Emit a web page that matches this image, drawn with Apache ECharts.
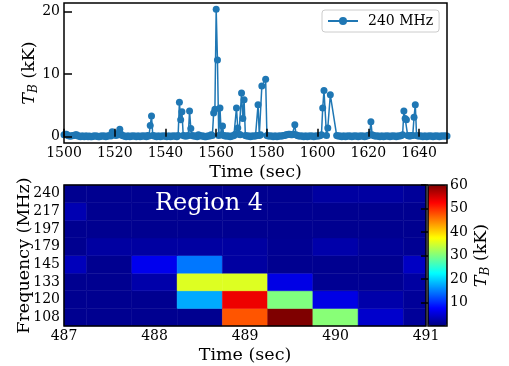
<!DOCTYPE html>
<html>
<head>
<meta charset="utf-8">
<script src="https://cdn.jsdelivr.net/npm/echarts@6/dist/echarts.min.js"></script>
<style>
html,body{margin:0;padding:0;background:#fff;}
#chart{width:509px;height:366px;}
</style>
</head>
<body>
<div id="chart"></div>
<script>
// ---- Top panel: 240 MHz brightness temperature (kK) vs time (sec) ----
const seriesName = '240 MHz';
const tb240Samples = [
[1500,0.3],[1500.5,0.4],[1501,0.4],[1501.5,0.2],[1502,0.1],[1502.5,0.1],[1503,0.1],[1503.5,0.2],[1504,0.2],[1504.5,0.3],
[1505,0.3],[1505.5,0.1],[1506,0.1],[1506.5,0.0],[1507,0.1],[1507.5,0.1],[1508,0.0],[1508.5,0.1],[1509,0.1],[1509.5,0.0],
[1510,0.1],[1510.5,0.0],[1511,0.0],[1511.5,0.1],[1512,0.1],[1512.5,0.1],[1513,0.1],[1513.5,0.0],[1514,0.0],[1514.5,0.1],
[1515,0.1],[1515.5,0.1],[1516,0.1],[1516.5,0.0],[1517,0.1],[1517.5,0.1],[1518,0.2],[1518.5,0.1],[1519,0.8],[1519.5,0.4],
[1520,0.3],[1520.5,0.2],[1521,0.5],[1521.5,0.3],[1522,1.2],[1522.5,0.4],[1523,0.2],[1523.5,0.1],[1524,0.1],[1524.5,0.0],
[1525,0.1],[1525.5,0.1],[1526,0.0],[1526.5,0.1],[1527,0.1],[1527.5,0.1],[1528,0.1],[1528.5,0.0],[1529,0.1],[1529.5,0.1],
[1530,0.0],[1530.5,0.1],[1531,0.1],[1531.5,0.1],[1532,0.1],[1532.5,0.0],[1533,0.2],[1533.5,0.1],[1534,1.8],[1534.5,3.3],
[1535,0.2],[1535.5,0.1],[1536,0.1],[1536.5,0.0],[1537,0.1],[1537.5,0.1],[1538,0.0],[1538.5,0.1],[1539,0.1],[1539.5,0.1],
[1540,0.1],[1540.5,0.0],[1541,0.1],[1541.5,0.1],[1542,0.0],[1542.5,0.1],[1543,0.1],[1543.5,0.1],[1544,0.1],[1544.5,0.0],
[1545,0.2],[1545.5,5.5],[1546,2.7],[1546.5,4.0],[1547,0.2],[1547.5,0.1],[1548,0.1],[1548.5,0.1],[1549,0.2],[1549.5,4.1],
[1550,1.3],[1550.5,0.2],[1551,0.1],[1551.5,0.1],[1552,0.1],[1552.5,0.0],[1553,0.3],[1553.5,0.2],[1554,0.1],[1554.5,0.1],
[1555,0.1],[1555.5,0.0],[1556,0.0],[1556.5,0.1],[1557,0.1],[1557.5,0.1],[1558,0.3],[1558.5,0.2],[1559,3.8],[1559.5,4.4],
[1560,20.4],[1560.5,12.3],[1561,0.2],[1561.5,4.6],[1562,0.3],[1562.5,1.7],[1563,0.2],[1563.5,0.1],[1564,0.1],[1564.5,0.1],
[1565,0.1],[1565.5,0.0],[1566,0.1],[1566.5,0.1],[1567,0.2],[1567.5,0.4],[1568,4.6],[1568.5,1.4],[1569,0.4],[1569.5,0.3],
[1570,7.0],[1570.5,2.9],[1571,5.9],[1571.5,0.2],[1572,0.1],[1572.5,0.1],[1573,0.1],[1573.5,0.0],[1574,0.1],[1574.5,0.1],
[1575,0.1],[1575.5,0.1],[1576,0.2],[1576.5,5.1],[1577,0.2],[1577.5,0.3],[1578,8.1],[1579.5,9.2],
[1580,0.2],[1580.5,0.1],[1581,0.1],[1581.5,0.1],[1582,0.1],[1582.5,0.0],[1583,0.1],[1583.5,0.1],[1584,0.0],[1584.5,0.1],
[1585,0.1],[1585.5,0.1],[1586,0.1],[1586.5,0.2],[1587,0.2],[1587.5,0.3],[1588,0.3],[1588.5,0.4],[1589,0.4],[1589.5,0.3],
[1590,0.3],[1590.5,0.4],[1591,1.9],[1591.5,0.3],[1592,0.2],[1592.5,0.1],[1593,0.1],[1593.5,0.1],[1594,0.1],[1594.5,0.0],
[1595,0.1],[1595.5,0.1],[1596,0.0],[1596.5,0.1],[1597,0.1],[1597.5,0.1],[1598,0.1],[1598.5,0.0],[1599,0.1],[1599.5,0.1],
[1600,0.1],[1600.5,0.1],[1601,0.2],[1601.5,0.3],[1602,4.6],[1602.5,7.4],[1603.5,0.2],[1604,1.4],[1605,6.7],
[1607.5,0.2],[1608,0.1],[1608.5,0.1],[1609,0.1],[1609.5,0.0],
[1610,0.1],[1610.5,0.1],[1611,0.0],[1611.5,0.1],[1612,0.1],[1612.5,0.1],[1613,0.1],[1613.5,0.0],[1614,0.1],[1614.5,0.1],
[1615,0.1],[1615.5,0.1],[1616,0.0],[1616.5,0.1],[1617,0.1],[1617.5,0.1],[1618,0.1],[1618.5,0.0],[1619,0.1],[1619.5,0.1],
[1620,0.2],[1620.5,0.3],[1621,2.4],[1621.5,0.3],[1622,0.2],[1622.5,0.1],[1623,0.1],[1623.5,0.1],[1624,0.1],[1624.5,0.0],
[1625,0.1],[1625.5,0.1],[1626,0.0],[1626.5,0.1],[1627,0.1],[1627.5,0.1],[1628,0.1],[1628.5,0.0],[1629,0.1],[1629.5,0.1],
[1630,0.1],[1630.5,0.1],[1631,0.0],[1631.5,0.1],[1632,0.1],[1632.5,0.1],[1633,0.2],[1633.5,0.3],[1634,4.1],[1634.5,2.9],
[1635,2.7],[1635.5,0.2],[1636,0.1],[1636.5,0.1],[1637,0.2],[1637.5,0.2],[1638,3.1],[1638.5,5.1],[1639,0.2],[1639.5,0.1],
[1640,0.1],[1640.5,0.1],[1641,0.1],[1641.5,0.0],[1642,0.1],[1642.5,0.1],[1643,0.0],[1643.5,0.1],[1644,0.1],[1644.5,0.1],
[1645,0.1],[1645.5,0.0],[1646,0.1],[1646.5,0.1],[1647,0.1],[1647.5,0.1],[1648,0.0],[1648.5,0.1],[1649,0.1],[1649.5,0.1],
[1650,0.1],[1650.5,0.1],[1651,0.1]
];
const topXTicks = [1500,1520,1540,1560,1580,1600,1620,1640];
const topYTicks = [0,10,20];

// ---- Bottom panel: Region 4 dynamic spectrum ----
const heatTimes = [487,487.5,488,488.5,489,489.5,490,490.5,491];
const freqLabels = ['108','120','133','145','179','197','217','240'];
const tb108MHz = [1.0,1.0,1.0,1.0,47.5,60.0,30.5,4.5,1.5];
const tb120MHz = [1.0,1.0,1.0,17.5,53.5,30.0,6.0,2.5,1.5];
const tb133MHz = [1.0,1.0,2.5,35.5,35.5,6.0,1.2,1.2,2.0];
const tb145MHz = [3.5,1.0,6.5,14.5,2.0,1.0,1.0,1.0,4.0];
const tb179MHz = [1.0,2.0,2.0,2.0,2.0,1.2,2.5,1.5,1.2];
const tb197MHz = [1.0,1.0,1.0,1.0,1.0,1.0,1.0,1.0,1.0];
const tb217MHz = [3.0,1.0,1.0,1.0,1.0,1.0,1.0,1.0,1.0];
const tb240MHz = [1.0,1.0,1.0,1.0,1.0,1.0,2.0,2.0,1.5];
const heatXTicks = [487,488,489,490,491];
const cbarTicks = [10,20,30,40,50,60];
const jet = ['#00007f','#0000ff','#007fff','#00ffff','#7fff7f','#ffff00','#ff7f00','#ff0000','#7f0000'];

const rows = [tb108MHz,tb120MHz,tb133MHz,tb145MHz,tb179MHz,tb197MHz,tb217MHz,tb240MHz];
const heatData = [];
rows.forEach((row, r) => row.forEach((v, c) => heatData.push([heatTimes[c], r, v])));

const FONT = 'DejaVu Serif';
const plain = v => String(v);
const tickStyle = {color:'#000', width:1.5};
const labelStyle = {fontSize:14, color:'#000', fontFamily:FONT};
const nameStyle = {fontSize:17.5, color:'#000', fontFamily:FONT};
const tbRich = {
  fontSize:17.5, color:'#000', fontFamily:FONT,
  rich:{
    it:{fontStyle:'italic', fontSize:17.5, fontFamily:FONT, color:'#000', lineHeight:22, verticalAlign:'middle'},
    sub:{fontStyle:'italic', fontSize:12, fontFamily:FONT, color:'#000', lineHeight:12, verticalAlign:'bottom'},
    n:{fontSize:17.5, fontFamily:FONT, color:'#000', lineHeight:22, verticalAlign:'middle'}
  }
};

const chart = echarts.init(document.getElementById('chart'), null, {renderer:'canvas'});
const option = {
  animation:false,
  backgroundColor:'#fff',
  textStyle:{fontFamily:FONT},
  grid:[
    {left:64, top:3, width:383, height:140, show:true, borderColor:'#000', borderWidth:1.5, z:10, backgroundColor:'transparent'},
    {left:64, top:185, width:362, height:141, show:true, borderColor:'#000', borderWidth:1.5, z:10, backgroundColor:'transparent'},
    {left:428, top:185, width:19, height:141, show:true, borderColor:'#000', borderWidth:1.5, z:10, backgroundColor:'transparent'}
  ],
  xAxis:[
    {type:'value', gridIndex:0, min:1500, max:1651, z:10,
     axisLine:{show:false}, splitLine:{show:false},
     axisTick:{inside:true, length:8, lineStyle:tickStyle, customValues:topXTicks},
     axisLabel:Object.assign({customValues:topXTicks, margin:3, formatter:plain}, labelStyle),
     name:'Time (sec)', nameLocation:'middle', nameGap:20, nameMoveOverlap:false, nameTextStyle:nameStyle},
    {type:'value', gridIndex:1, min:487, max:491, z:10,
     axisLine:{show:false}, splitLine:{show:false},
     axisTick:{inside:true, length:9, lineStyle:tickStyle, customValues:heatXTicks},
     axisLabel:Object.assign({customValues:heatXTicks, margin:3, formatter:plain}, labelStyle),
     name:'Time (sec)', nameLocation:'middle', nameGap:20, nameMoveOverlap:false, nameTextStyle:nameStyle},
    {type:'value', gridIndex:2, min:0, max:1, show:false}
  ],
  yAxis:[
    {type:'value', gridIndex:0, min:-1.02, max:21.42, z:10,
     axisLine:{show:false}, splitLine:{show:false},
     axisTick:{inside:true, length:8, lineStyle:tickStyle, customValues:topYTicks},
     axisLabel:Object.assign({customValues:topYTicks, margin:4, formatter:plain}, labelStyle),
     name:'{it|T}{sub|B}{n| (kK)}', nameLocation:'middle', nameGap:24, nameMoveOverlap:false, nameTextStyle:tbRich},
    {type:'category', gridIndex:1, data:freqLabels, z:10,
     axisLine:{show:false}, splitLine:{show:false},
     axisTick:{inside:true, length:9, alignWithLabel:true, interval:0, lineStyle:tickStyle},
     axisLabel:Object.assign({margin:4, interval:0}, labelStyle),
     name:'Frequency (MHz)', nameLocation:'middle', nameGap:31, nameMoveOverlap:false, nameTextStyle:nameStyle},
    {type:'value', gridIndex:2, min:0, max:60, position:'right', z:10,
     axisLine:{show:false}, splitLine:{show:false},
     axisTick:{inside:true, length:7, lineStyle:tickStyle, customValues:cbarTicks},
     axisLabel:Object.assign({customValues:cbarTicks, margin:3, formatter:plain}, labelStyle),
     name:'{it|T}{sub|B}{n| (kK)}', nameLocation:'middle', nameGap:23, nameRotate:90, nameMoveOverlap:false, nameTextStyle:tbRich}
  ],
  visualMap:{
    type:'continuous', min:0, max:60, dimension:2, seriesIndex:1,
    inRange:{color:jet}, left:428, top:185, itemWidth:19, itemHeight:141,
    calculable:false, padding:0, hoverLink:false, orient:'vertical', show:true
  },
  legend:{
    data:[seriesName], left:322, top:10, padding:[4,6,4,5],
    itemWidth:30, itemHeight:10, borderColor:'#ccc', borderWidth:1, borderRadius:3,
    backgroundColor:'#fff',
    textStyle:{fontSize:14, fontFamily:FONT, color:'#000', padding:[0,0,0,5]}
  },
  graphic:[
    {type:'text', left:155, top:192, z:20,
     style:{text:'Region 4', fill:'#fff', font:'24px "DejaVu Serif"'}}
  ],
  series:[
    {type:'line', name:seriesName, xAxisIndex:0, yAxisIndex:0, data:tb240Samples,
     symbol:'circle', symbolSize:7, showSymbol:true, showAllSymbol:true,
     lineStyle:{width:1.5, color:'#1f77b4'}, itemStyle:{color:'#1f77b4'}, z:2},
    {type:'custom', name:'heat', xAxisIndex:1, yAxisIndex:1, data:heatData,
     encode:{x:0, y:1},
     renderItem:function(params, api){
       const t = api.value(0), r = api.value(1);
       const c = api.coord([t, r]);
       const sz = api.size([0.5, 1], [t, r]);
       const cs = params.coordSys;
       const rect = echarts.graphic.clipRectByRect(
         {x:c[0]-sz[0]/2, y:c[1]-sz[1]/2, width:sz[0], height:sz[1]},
         {x:cs.x, y:cs.y, width:cs.width, height:cs.height});
       if (!rect) return null;
       const col = api.visual('color');
       return {type:'rect', shape:rect, style:{fill:col, stroke:col, lineWidth:0.5}};
     }, z:2}
  ]
};
chart.setOption(option);
</script>
</body>
</html>
